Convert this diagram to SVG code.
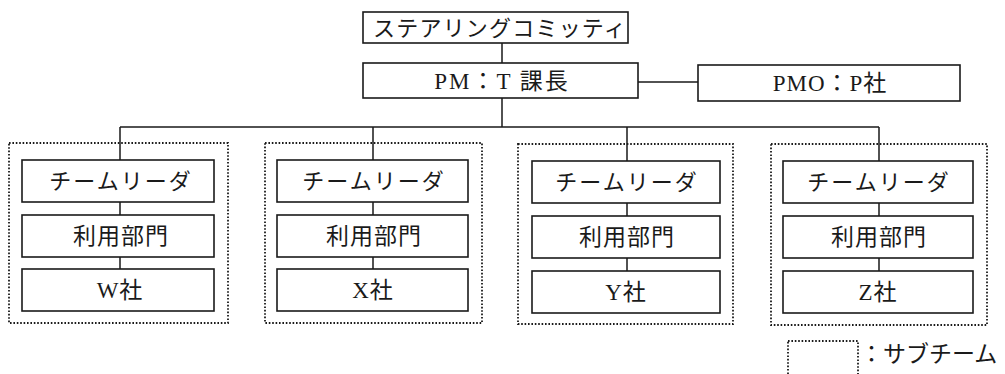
<svg xmlns="http://www.w3.org/2000/svg" width="1005" height="374" viewBox="0 0 1005 374">
<style>
.box{fill:#fff;stroke:#1a1a1a;stroke-width:1.6}
.sub{fill:none;stroke:#1a1a1a;stroke-width:1.8;stroke-dasharray:1.6 1.8}
.ln{fill:none;stroke:#1a1a1a;stroke-width:1.5}
text{font-family:"Liberation Serif","Noto Sans CJK JP",serif;fill:#1a1a1a;text-anchor:middle;dominant-baseline:central}
.jp{font-size:22px;letter-spacing:2px}
.lt{font-size:23px;letter-spacing:1px}
</style>
<rect width="1005" height="374" fill="#fff"/>
<g id="connectors">
<path class="ln" d="M502,43V63M638,82H698M502,98V127M120,127H879M120,127V160M373,127V160M627,127V161M879,127V161"/>
<path class="ln" d="M120,202V215M120,257V269M373,202V215M373,257V269M627,203V216M627,258V271M879,203V216M879,258V271"/>
</g>
<g id="steering"><rect class="box" x="363" y="12" width="265" height="31"/><text class="jp" x="500" y="28" style="letter-spacing:1.2px">ステアリングコミッティ</text></g>
<g id="pm"><rect class="box" x="363" y="63" width="275" height="35"/><text x="502" y="81" style="font-size:23px;letter-spacing:2px">PM：T 課長</text></g>
<g id="pmo"><rect class="box" x="698" y="65" width="262" height="36"/><text class="lt" x="830" y="83">PMO：P社</text></g>
<g id="team-w">
<rect class="sub" x="9" y="143" width="219" height="180"/>
<rect class="box" x="22" y="160" width="192" height="42"/><text class="jp" x="121" y="181">チームリーダ</text>
<rect class="box" x="22" y="215" width="192" height="42"/><text class="lt" x="121" y="236">利用部門</text>
<rect class="box" x="22" y="269" width="192" height="42"/><text class="lt" x="120" y="290">W社</text>
</g>
<g id="team-x">
<rect class="sub" x="265" y="143" width="217" height="180"/>
<rect class="box" x="277" y="160" width="191" height="42"/><text class="jp" x="374" y="181">チームリーダ</text>
<rect class="box" x="277" y="215" width="191" height="42"/><text class="lt" x="374" y="236">利用部門</text>
<rect class="box" x="277" y="269" width="191" height="42"/><text class="lt" x="373" y="290">X社</text>
</g>
<g id="team-y">
<rect class="sub" x="518" y="144" width="215" height="180"/>
<rect class="box" x="532" y="161" width="188" height="42"/><text class="jp" x="627" y="182">チームリーダ</text>
<rect class="box" x="532" y="216" width="188" height="42"/><text class="lt" x="627" y="237">利用部門</text>
<rect class="box" x="532" y="271" width="188" height="42"/><text class="lt" x="626" y="292">Y社</text>
</g>
<g id="team-z">
<rect class="sub" x="771" y="144" width="216" height="181"/>
<rect class="box" x="783" y="161" width="190" height="42"/><text class="jp" x="879" y="182">チームリーダ</text>
<rect class="box" x="783" y="216" width="190" height="42"/><text class="lt" x="879" y="237">利用部門</text>
<rect class="box" x="783" y="271" width="190" height="42"/><text class="lt" x="878" y="292">Z社</text>
</g>
<g id="legend">
<rect class="sub" x="788" y="341" width="70" height="40"/>
<text x="860" y="354" style="font-size:23px;text-anchor:start">：サブチーム</text>
</g>
</svg>
